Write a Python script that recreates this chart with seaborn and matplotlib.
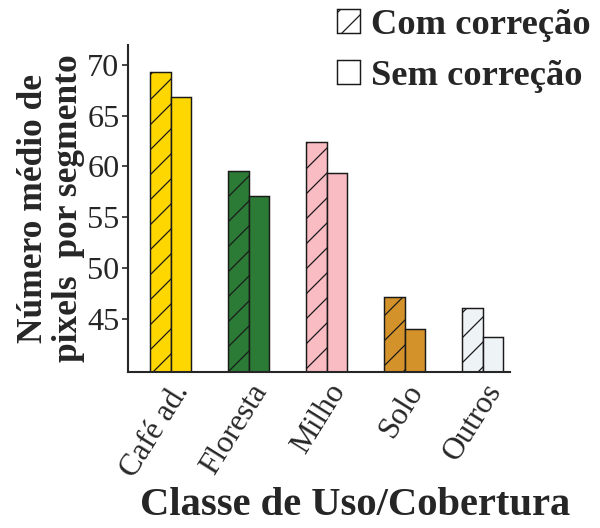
import pandas as pd
import seaborn as sns
import matplotlib.pyplot as plt
from matplotlib.patches import Patch

#%% data

classes = ["Café ad.", "Floresta", "Milho", "Solo", "Outros"]
com_correcao = [69.3, 59.6, 62.4, 47.1, 46.0]
sem_correcao = [66.9, 57.1, 59.4, 44.0, 43.2]
series = ["Com correção", "Sem correção"]
colors = ["#ffd700", "#2b7a35", "#f8bcc2", "#d4922a", "#eef3f6"]
yticks = [45, 50, 55, 60, 65, 70]

df = pd.DataFrame({
    "classe": classes * 2,
    "valor": com_correcao + sem_correcao,
    "serie": [series[0]] * len(classes) + [series[1]] * len(classes),
})

#%% style

sns.set_style("ticks")
plt.rcParams["font.family"] = ["Liberation Serif", "DejaVu Serif"]
plt.rcParams["hatch.linewidth"] = 0.6
plt.rcParams["hatch.color"] = "#2a1f1f"

fig = plt.figure(figsize=(4, 3.52), dpi=150)
ax = fig.add_axes([0.213, 0.295, 0.637, 0.62])

sns.barplot(data=df, x="classe", y="valor", hue="serie", order=classes,
            hue_order=series, width=0.52, ax=ax, legend=False,
            edgecolor="#1a1a1a", linewidth=0.7)

for i, cont in enumerate(ax.containers):
    for bar, c in zip(cont, colors):
        bar.set_facecolor(c)
        bar.set_edgecolor("#1a1a1a")
        if i == 0:
            bar.set_hatch("//")

#%% axes

ax.set_ylim(39.7, 72)
ax.set_xlim(-0.55, 4.35)
ax.set_yticks(yticks)
ax.tick_params(axis="y", labelsize=15.5, length=3, width=0.8, pad=1)
ax.tick_params(axis="x", labelsize=15, length=0, pad=3)
plt.setp(ax.get_xticklabels(), rotation=58, ha="right", rotation_mode="anchor")
for s in ["top", "right"]:
    ax.spines[s].set_visible(False)
for s in ["left", "bottom"]:
    ax.spines[s].set_linewidth(1.0)

ax.set_ylabel("Número médio de\npixels  por segmento", fontsize=17,
              fontweight="bold", linespacing=1.1, labelpad=1)
ax.set_xlabel("Classe de Uso/Cobertura", fontsize=19.5, fontweight="bold")
ax.xaxis.set_label_coords(0.594, -0.35)

handles = [Patch(facecolor="white", edgecolor="#1a1a1a", hatch="//", linewidth=0.7),
           Patch(facecolor="white", edgecolor="#1a1a1a", linewidth=0.7)]
fig.legend(handles, series, loc="upper right", bbox_to_anchor=(1.02, 1.025),
           frameon=False, prop={"family": "Liberation Serif", "weight": "bold", "size": 17.5},
           handlelength=0.62, handleheight=0.62, handletextpad=0.3,
           labelspacing=0.5, borderaxespad=0.2)

fig.savefig("out.png", dpi=150)
